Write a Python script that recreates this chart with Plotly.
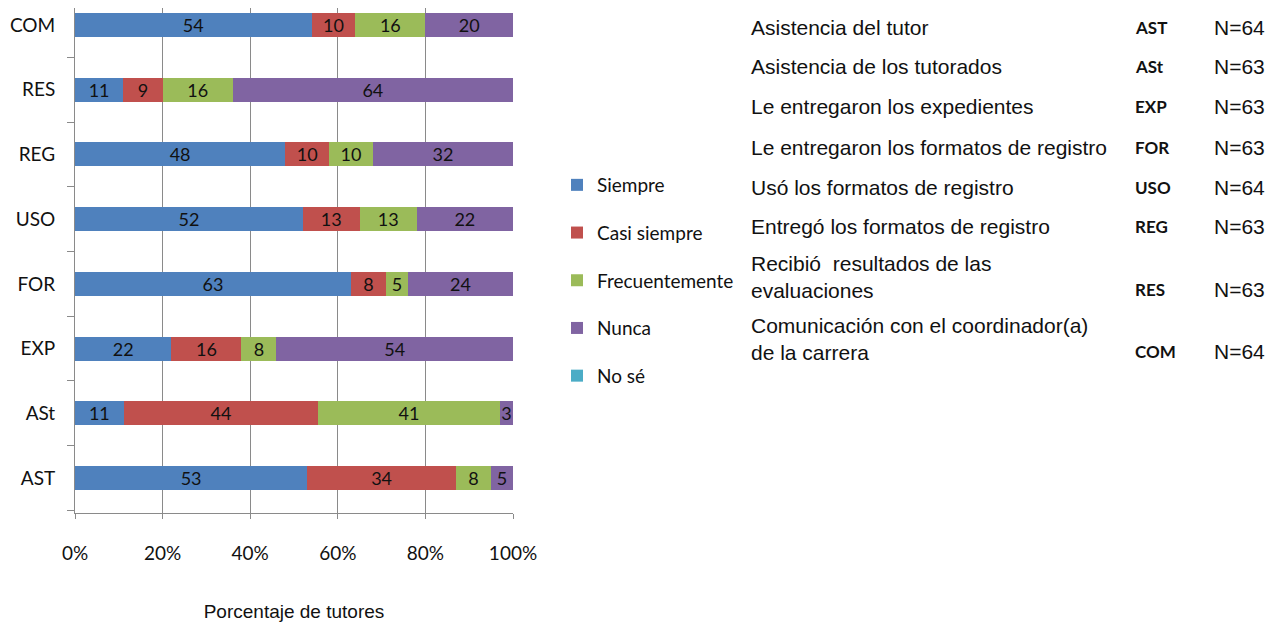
import plotly.graph_objects as go

# ---------------- data ----------------
categories = ["AST", "ASt", "EXP", "FOR", "USO", "REG", "RES", "COM"]
siempre = [53, 11, 22, 63, 52, 48, 11, 54]
casi_siempre = [34, 44, 16, 8, 13, 10, 9, 10]
frecuentemente = [8, 41, 8, 5, 13, 10, 16, 16]
nunca = [5, 3, 54, 24, 22, 32, 64, 20]
no_se = [0, 0, 0, 0, 0, 0, 0, 0]

series_names = ["Siempre", "Casi siempre", "Frecuentemente", "Nunca", "No sé"]
series_colors = ["#4F81BD", "#C0504D", "#9BBB59", "#8064A2", "#4BACC6"]

x_ticks = [0, 20, 40, 60, 80, 100]
x_tick_labels = ["0%", "20%", "40%", "60%", "80%", "100%"]

table_desc = [
    "Asistencia del tutor",
    "Asistencia de los tutorados",
    "Le entregaron los expedientes",
    "Le entregaron los formatos de registro",
    "Usó los formatos de registro",
    "Entregó los formatos de registro",
    "Recibió  resultados de las<br>evaluaciones",
    "Comunicación con el coordinador(a)<br>de la carrera",
]
table_codes = ["AST", "ASt", "EXP", "FOR", "USO", "REG", "RES", "COM"]
table_n = ["N=64", "N=63", "N=63", "N=63", "N=64", "N=63", "N=63", "N=64"]

# ---------------- layout geometry ----------------
# the page body adds an 8px offset; figure pixel = screen pixel - 8
OFF = 8
W, H = 1269, 614
ML, MT = 75 - OFF, 0
PLOT_RIGHT, PLOT_BOTTOM = 513 - OFF, 513 - OFF
MR, MB = W - PLOT_RIGHT, H - PLOT_BOTTOM
PW, PH = W - ML - MR, H - MT - MB


def px_x(p):
    return (p - OFF - ML) / PW


def px_y(p):
    return 1 - (p - OFF - MT) / PH


fig = go.Figure()
all_series = [siempre, casi_siempre, frecuentemente, nunca, no_se]
for name, color, vals in zip(series_names, series_colors, all_series):
    txt = [str(v) if v > 0 else "" for v in vals]
    fig.add_trace(go.Bar(
        y=categories, x=vals, name=name, orientation="h",
        marker=dict(color=color, line=dict(width=0)),
        text=txt, textposition="inside", insidetextanchor="middle", textangle=0,
        textfont=dict(family="Lato", size=18, color="#111111"),
        legendgroup=name, width=0.37,
    ))

fig.update_layout(
    width=W, height=H,
    margin=dict(l=ML, r=MR, t=MT, b=MB),
    barmode="stack", barnorm="percent",
    plot_bgcolor="white", paper_bgcolor="white",
    uniformtext=dict(minsize=18, mode="show"),
    font=dict(family="Lato", color="#111111"),
    showlegend=True,
    legend=dict(
        x=px_x(557), y=px_y(166), xanchor="left", yanchor="top",
        traceorder="grouped", tracegroupgap=20,
        font=dict(family="Lato", size=19, color="#111111"),
        itemwidth=30, bgcolor="rgba(0,0,0,0)",
    ),
)

fig.update_xaxes(
    range=[0, 100], tickvals=x_ticks, ticktext=x_tick_labels,
    automargin=False,
    showgrid=True, gridcolor="#8a8a8a", gridwidth=1,
    zeroline=False, showline=True, linecolor="#8a8a8a", linewidth=1,
    ticks="outside", ticklen=5, tickcolor="#8a8a8a",
    ticklabelstandoff=18,
    tickfont=dict(family="Lato", size=19, color="#111111"),
    title=dict(text="Porcentaje de tutores", standoff=43,
               font=dict(family="Liberation Sans", size=19, color="#111111")),
)
fig.update_yaxes(
    range=[-0.54, 7.263], categoryorder="array", categoryarray=categories,
    automargin=False,
    showgrid=False, zeroline=False, showline=True, linecolor="#8a8a8a", linewidth=1,
    ticks="outside", tickson="boundaries", ticklen=7, tickcolor="#8a8a8a",
    ticklabelstandoff=15,
    tickfont=dict(family="Lato", size=19, color="#111111"),
)

# right-hand description table
row_y = [27, 67, 107, 147, 187, 227, 289, 351]
for desc, code, n, ry in zip(table_desc, table_codes, table_n, row_y):
    nlines = desc.count("<br>") + 1
    fig.add_annotation(
        x=px_x(749), y=px_y(ry - 12.5 * (nlines - 1)), xref="paper", yref="paper",
        xanchor="left", yanchor="middle", align="left", showarrow=False,
        text=desc, font=dict(family="Liberation Sans", size=21, color="#111111"),
    )
    fig.add_annotation(
        x=px_x(1133), y=px_y(ry), xref="paper", yref="paper",
        xanchor="left", yanchor="middle", showarrow=False,
        text="<b>" + code + "</b>", font=dict(family="Lato", size=17, color="#111111"),
    )
    fig.add_annotation(
        x=px_x(1212), y=px_y(ry), xref="paper", yref="paper",
        xanchor="left", yanchor="middle", showarrow=False,
        text=n, font=dict(family="Liberation Sans", size=21, color="#111111"),
    )

fig.write_html("out.html")
